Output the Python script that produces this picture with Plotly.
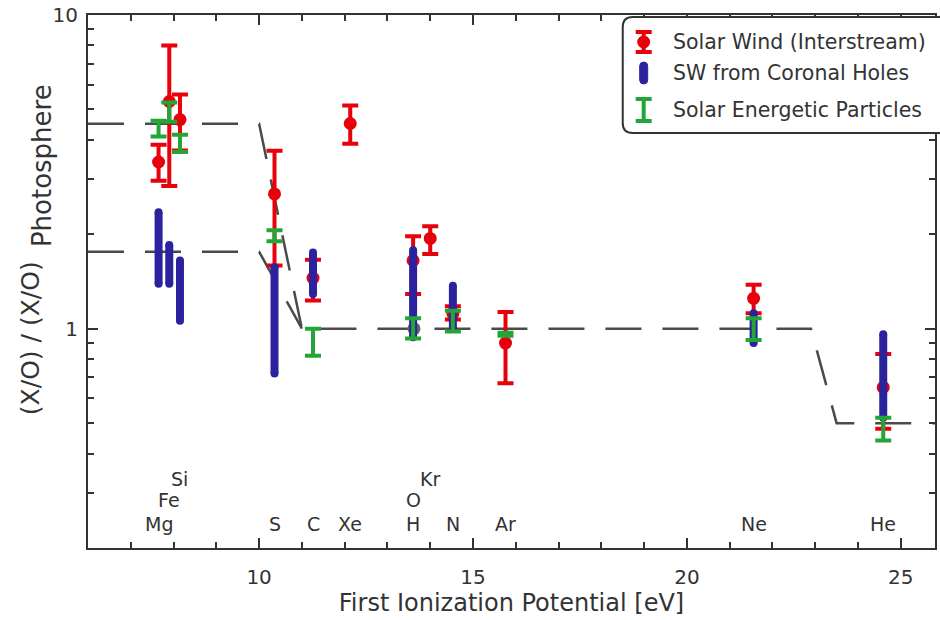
import numpy as np
import plotly.graph_objects as go

# ---------------- data ----------------
elements = ["Mg", "Fe", "Si", "S", "C", "Xe", "H", "O", "Kr", "N", "Ar", "Ne", "He"]
fip = [7.65, 7.90, 8.15, 10.36, 11.26, 12.13, 13.60, 13.62, 14.00, 14.53, 15.76, 21.56, 24.59]
label_level = [0, 1, 2, 0, 0, 0, 0, 1, 2, 0, 0, 0, 0]

# Solar wind (interstream): value, lower bound, upper bound
sw_el = ["Mg", "Fe", "Si", "S", "C", "Xe", "H", "Kr", "N", "Ar", "Ne", "He"]
sw_val = [3.40, 5.30, 4.64, 2.69, 1.45, 4.51, 1.65, 1.94, 1.12, 0.90, 1.25, 0.65]
sw_lo = [2.96, 2.85, 3.70, 1.59, 1.23, 3.89, 1.29, 1.73, 1.07, 0.67, 1.12, 0.48]
sw_hi = [3.86, 8.00, 5.58, 3.69, 1.66, 5.15, 1.97, 2.12, 1.18, 1.13, 1.38, 0.83]

# SW from coronal holes: ranges
ch_el = ["Mg", "Fe", "Si", "S", "C", "H", "N", "Ne", "He"]
ch_lo = [1.39, 1.39, 1.06, 0.72, 1.29, 0.94, 1.00, 0.90, 0.52]
ch_hi = [2.35, 1.85, 1.65, 1.57, 1.75, 1.78, 1.37, 1.12, 0.96]

# Solar energetic particles: value, lower, upper
sep_el = ["Mg", "Fe", "Si", "S", "C", "H", "N", "Ar", "Ne", "He"]
sep_val = [4.34, 4.90, 3.90, 1.98, 0.905, 1.00, 1.06, 0.96, 1.00, 0.48]
sep_lo = [4.10, 4.57, 3.66, 1.90, 0.82, 0.93, 0.98, 0.95, 0.92, 0.44]
sep_hi = [4.60, 5.26, 4.15, 2.06, 1.00, 1.08, 1.14, 0.97, 1.08, 0.52]

# reference (O by definition)
ref_el = ["O"]
ref_val = [1.0]

# FIP model curves
model_fip_hi = [6.0, 10.0, 11.0, 22.9, 23.5, 25.8]
model_hi = [4.5, 4.5, 1.0, 1.0, 0.5, 0.5]
model_fip_lo = [6.0, 10.0, 11.0]
model_lo = [1.76, 1.76, 1.0]

legend_names = ["Solar Wind (Interstream)", "SW from Coronal Holes", "Solar Energetic Particles"]

# ---------------- styling ----------------
RED = "#e8000b"
BLUE = "#2b239e"
GREEN = "#23a637"
GRAY = "#4a4a4a"
AX = "#333333"
FONT = "DejaVu Sans, Liberation Sans, Arial, sans-serif"

fip_of = dict(zip(elements, fip))

fig = go.Figure()

# model curves
for mx, my in ((model_fip_hi, model_hi), (model_fip_lo, model_lo)):
    fig.add_trace(go.Scatter(x=mx, y=my, mode="lines",
                             line=dict(color=GRAY, width=2.5, dash="36px,21px"),
                             hoverinfo="skip", showlegend=False))

# reference O
fig.add_trace(go.Scatter(x=[fip_of[e] for e in ref_el], y=ref_val, mode="markers",
                         marker=dict(color="#666666", size=13), showlegend=False))

# solar wind interstream
sx = [fip_of[e] for e in sw_el]
fig.add_trace(go.Scatter(
    x=sx, y=sw_val, mode="markers", name=legend_names[0],
    marker=dict(color=RED, size=13),
    error_y=dict(type="data", symmetric=False,
                 array=[h - v for h, v in zip(sw_hi, sw_val)],
                 arrayminus=[v - l for v, l in zip(sw_val, sw_lo)],
                 color=RED, thickness=4, width=8),
    showlegend=False))

# coronal holes (thick rounded bars)
cx, cy = [], []
for e, lo, hi in zip(ch_el, ch_lo, ch_hi):
    cx += [fip_of[e], fip_of[e], None]
    cy += [lo, hi, None]
fig.add_trace(go.Scatter(x=cx, y=cy, mode="lines+markers", name=legend_names[1],
                         line=dict(color=BLUE, width=8),
                         marker=dict(color=BLUE, size=8),
                         showlegend=False))

# SEP
gx = [fip_of[e] for e in sep_el]
fig.add_trace(go.Scatter(
    x=gx, y=sep_val, mode="markers", name=legend_names[2],
    marker=dict(color=GREEN, size=1, opacity=0),
    error_y=dict(type="data", symmetric=False,
                 array=[h - v for h, v in zip(sep_hi, sep_val)],
                 arrayminus=[v - l for v, l in zip(sep_val, sep_lo)],
                 color=GREEN, thickness=4, width=8),
    showlegend=False))

# element labels
level_y = [0.239, 0.285, 0.332]
for e, f, lv in zip(elements, fip, label_level):
    fig.add_annotation(x=f, y=np.log10(level_y[lv]), text=e, showarrow=False,
                       font=dict(family=FONT, size=19, color=AX),
                       xanchor="center", yanchor="middle")

# ---------------- custom legend ----------------
PW, PH = 849.0, 533.0
def px2paper(px, py):
    return (px - 88) / PW, (548 - py) / PH

bx0, by0 = px2paper(624, 133)
bx1, by1 = px2paper(950, 17)
rx, ry = 10 / PW, 10 / PH
path = (f"M {bx0+rx},{by1} L {bx1},{by1} L {bx1},{by0} L {bx0+rx},{by0} "
        f"Q {bx0},{by0} {bx0},{by0+ry} L {bx0},{by1-ry} Q {bx0},{by1} {bx0+rx},{by1} Z")
fig.add_shape(type="path", path=path, xref="paper", yref="paper",
              line=dict(color=AX, width=2), fillcolor="white", layer="above")

icon_x = 645
rows_y = [42, 73, 110]
ax_, _ = px2paper(icon_x, 0)
# red icon
_, ay = px2paper(0, rows_y[0])
fig.add_shape(type="line", xref="paper", yref="paper", xsizemode="pixel", ysizemode="pixel",
              xanchor=ax_, yanchor=ay, x0=0, x1=0, y0=-10, y1=10,
              line=dict(color=RED, width=4), layer="above")
for dy in (-10, 10):
    fig.add_shape(type="line", xref="paper", yref="paper", xsizemode="pixel", ysizemode="pixel",
                  xanchor=ax_, yanchor=ay, x0=-8, x1=8, y0=dy, y1=dy,
                  line=dict(color=RED, width=4), layer="above")
fig.add_shape(type="circle", xref="paper", yref="paper", xsizemode="pixel", ysizemode="pixel",
              xanchor=ax_, yanchor=ay, x0=-6.5, x1=6.5, y0=-6.5, y1=6.5,
              line=dict(color=RED, width=0), fillcolor=RED, layer="above")
# blue icon
_, ay = px2paper(0, rows_y[1])
fig.add_shape(type="path", xref="paper", yref="paper", xsizemode="pixel", ysizemode="pixel",
              xanchor=ax_, yanchor=ay,
              path="M -4,7 L -4,-7 Q -4,-11 0,-11 Q 4,-11 4,-7 L 4,7 Q 4,11 0,11 Q -4,11 -4,7 Z",
              line=dict(color=BLUE, width=1), fillcolor=BLUE, layer="above")
# green icon
_, ay = px2paper(0, rows_y[2])
fig.add_shape(type="line", xref="paper", yref="paper", xsizemode="pixel", ysizemode="pixel",
              xanchor=ax_, yanchor=ay, x0=0, x1=0, y0=-11, y1=11,
              line=dict(color=GREEN, width=4), layer="above")
for dy in (-11, 11):
    fig.add_shape(type="line", xref="paper", yref="paper", xsizemode="pixel", ysizemode="pixel",
                  xanchor=ax_, yanchor=ay, x0=-8, x1=8, y0=dy, y1=dy,
                  line=dict(color=GREEN, width=4), layer="above")
for name, ry_ in zip(legend_names, rows_y):
    tx, ty = px2paper(672, ry_)
    fig.add_annotation(x=tx, y=ty, xref="paper", yref="paper", text=name, showarrow=False,
                       xanchor="left", yanchor="middle",
                       font=dict(family=FONT, size=20.5, color=AX))

# y-axis title: main part and its subscript as rotated annotations
tx, ty = px2paper(30, 338)
fig.add_annotation(x=tx, y=ty, xref="paper", yref="paper", textangle=-90,
                   text="(X/O) / (X/O)", showarrow=False,
                   xanchor="center", yanchor="middle",
                   font=dict(family=FONT, size=25, color=AX))
tx, ty = px2paper(42, 166)
fig.add_annotation(x=tx, y=ty, xref="paper", yref="paper", textangle=-90,
                   text="Photosphere", showarrow=False,
                   xanchor="center", yanchor="middle",
                   font=dict(family=FONT, size=26, color=AX))

# ---------------- axes ----------------
minor_y = [0.3, 0.4, 0.5, 0.6, 0.7, 0.8, 0.9, 2, 3, 4, 5, 6, 7, 8, 9]
fig.update_yaxes(type="log", range=[np.log10(0.2), 1.0],
                 tickmode="array", tickvals=[1, 10], ticktext=["1", "10"],
                 ticks="inside", ticklen=10, tickwidth=2, tickcolor=AX,
                 minor=dict(tickmode="array", tickvals=minor_y, ticks="inside",
                            ticklen=6, tickwidth=1.5, tickcolor=AX),
                 showline=True, linecolor=AX, linewidth=2, mirror="ticks",
                 showgrid=False, zeroline=False, ticklabelstandoff=4,
                 tickfont=dict(family=FONT, size=20, color=AX))
fig.update_xaxes(range=[6, 25.8], tickmode="array", tickvals=[10, 15, 20, 25],
                 ticks="inside", ticklen=10, tickwidth=2, tickcolor=AX,
                 minor=dict(tickmode="array", tickvals=list(range(7, 26)), ticks="inside",
                            ticklen=6, tickwidth=1.5, tickcolor=AX),
                 showline=True, linecolor=AX, linewidth=2, mirror="ticks",
                 showgrid=False, zeroline=False, ticklabelstandoff=10,
                 tickfont=dict(family=FONT, size=20, color=AX),
                 title=dict(text="First Ionization Potential [eV]",
                            font=dict(family=FONT, size=24, color=AX), standoff=2))

fig.update_layout(width=940, height=620, margin=dict(l=88, r=3, t=15, b=72),
                  paper_bgcolor="white", plot_bgcolor="white", showlegend=False)

fig.write_html("out.html")
